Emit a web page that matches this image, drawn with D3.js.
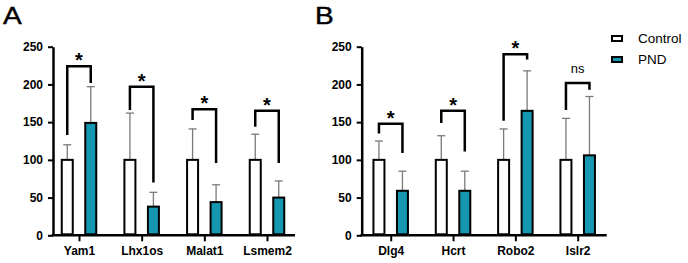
<!DOCTYPE html>
<html>
<head>
<meta charset="utf-8">
<script src="https://cdn.jsdelivr.net/npm/d3@7"></script>
<style>
  body { margin: 0; background: #fff; }
  svg { display: block; font-family: "Liberation Sans", Arial, sans-serif; }
</style>
</head>
<body>
<svg width="688" height="263"></svg>
<script>
// panel A
const genesA = ['Yam1', 'Lhx1os', 'Malat1', 'Lsmem2']
const controlA = [100, 100, 100, 100]
const controlSdA = [20, 62, 41, 34]
const pndA = [149, 38, 44, 50]
const pndSdA = [48, 19, 23, 22]
// bracket: top, left leg end, right leg end
const bracketTopA = [224, 197, 167, 165]
const bracketLeftA = [133, 166, 153, 144]
const bracketRightA = [202, 70, 96, 96]
const signifA = ['*', '*', '*', '*']

// panel B
const genesB = ['Dlg4', 'Hcrt', 'Robo2', 'Islr2']
const controlB = [100, 100, 100, 100]
const controlSdB = [25, 32, 41, 55]
const pndB = [59, 59, 165, 106]
const pndSdB = [26, 26, 53, 78]
const bracketTopB = [148, 165, 240, 202]
const bracketLeftB = [135, 149, 152, 166]
const bracketRightB = [109, 111, 233, 193]
const signifB = ['*', '*', '*', 'ns']

const groups = ['Control', 'PND']
const colors = { Control: '#ffffff', PND: '#1597b1' }
const yTicks = [0, 50, 100, 150, 200, 250]

const svg = d3.select('svg')

const y = d3.scaleLinear().domain([0, 250]).range([235.3, 46.7])
const inner = d3.scaleBand().domain(groups).range([-17.25, 17.25]).paddingInner(0.532)

function drawPanel(cfg) {
    const g = svg.append('g')
    const x = d3.scalePoint().domain(cfg.genes).range(cfg.centers)

    // y axis
    const yAxis = g.append('g')
        .attr('transform', `translate(${cfg.x0},0)`)
        .call(d3.axisLeft(y).tickValues(yTicks).tickSize(5).tickPadding(5).tickSizeOuter(0))
    yAxis.select('.domain').attr('stroke-width', 2.5)
    yAxis.selectAll('.tick line').attr('stroke-width', 2)
    yAxis.selectAll('text').style('font-size', '12px').style('font-weight', 'bold').attr('fill', '#000')

    // x axis
    const xAxis = g.append('g')
        .attr('transform', `translate(0,${y(0)})`)
        .call(d3.axisBottom(x).tickSize(6).tickPadding(5))
    xAxis.select('.domain').remove()
    xAxis.selectAll('.tick line').attr('stroke-width', 2)
    xAxis.selectAll('text').style('font-size', '12px').style('font-weight', 'bold').attr('fill', '#000')
    g.append('line')
        .attr('x1', cfg.x0 - 1.25).attr('x2', cfg.x1)
        .attr('y1', y(0)).attr('y2', y(0))
        .attr('stroke', '#000').attr('stroke-width', 2.5)

    const rows = []
    cfg.genes.forEach((gene, i) => {
        rows.push({ gene, grp: 'Control', v: cfg.control[i], sd: cfg.controlSd[i] })
        rows.push({ gene, grp: 'PND', v: cfg.pnd[i], sd: cfg.pndSd[i] })
    })
    const cx = d => x(d.gene) + inner(d.grp) + inner.bandwidth() / 2

    // error bars (drawn first, bars cover the lower part)
    const eb = g.append('g').selectAll('g').data(rows).join('g')
    eb.append('line')
        .attr('x1', cx).attr('x2', cx)
        .attr('y1', d => y(d.v)).attr('y2', d => y(d.v + d.sd))
        .attr('stroke', '#7a7a7a').attr('stroke-width', 1.3)
    eb.append('line')
        .attr('x1', d => cx(d) - 4).attr('x2', d => cx(d) + 4)
        .attr('y1', d => y(d.v + d.sd)).attr('y2', d => y(d.v + d.sd))
        .attr('stroke', '#7a7a7a').attr('stroke-width', 1.3)

    g.append('g').selectAll('rect').data(rows).join('rect')
        .attr('x', d => x(d.gene) + inner(d.grp))
        .attr('y', d => y(d.v))
        .attr('width', inner.bandwidth())
        .attr('height', d => y(0) - y(d.v) - 1)
        .attr('fill', d => colors[d.grp])
        .attr('stroke', '#000').attr('stroke-width', 2)

    // significance brackets
    cfg.genes.forEach((gene, i) => {
        const xl = x(gene) + inner('Control') + inner.bandwidth() / 2
        const xr = x(gene) + inner('PND') + inner.bandwidth() / 2
        const path = d3.path()
        path.moveTo(xl, y(cfg.bLeft[i]))
        path.lineTo(xl, y(cfg.bTop[i]))
        path.lineTo(xr, y(cfg.bTop[i]))
        path.lineTo(xr, y(cfg.bRight[i]))
        g.append('path')
            .attr('d', path.toString())
            .attr('fill', 'none').attr('stroke', '#000').attr('stroke-width', 2.5)
            .attr('stroke-linejoin', 'miter')
        const lab = cfg.signif[i]
        g.append('text')
            .attr('x', (xl + xr) / 2)
            .attr('y', lab === '*' ? y(cfg.bTop[i]) + 1 : y(cfg.bTop[i]) - 10)
            .attr('text-anchor', 'middle')
            .style('font-size', lab === '*' ? '20px' : '13px')
            .style('font-weight', lab === '*' ? 'bold' : 'normal')
            .text(lab)
    })

    svg.append('text')
        .attr('transform', `translate(${cfg.labelX},24) scale(1.22,1)`)
        .style('font-size', '23px')
        .style('stroke', '#000').style('stroke-width', 0.4)
        .text(cfg.label)
}

drawPanel({
    label: 'A', labelX: 3, x0: 53, x1: 295, centers: [79, 267],
    genes: genesA, control: controlA, controlSd: controlSdA, pnd: pndA, pndSd: pndSdA,
    bTop: bracketTopA, bLeft: bracketLeftA, bRight: bracketRightA, signif: signifA
})
drawPanel({
    label: 'B', labelX: 315, x0: 361.7, x1: 606.7, centers: [390.7, 577.7],
    genes: genesB, control: controlB, controlSd: controlSdB, pnd: pndB, pndSd: pndSdB,
    bTop: bracketTopB, bLeft: bracketLeftB, bRight: bracketRightB, signif: signifB
})

// legend
const legend = svg.append('g').selectAll('g').data(groups).join('g')
    .attr('transform', (d, i) => `translate(612,${36 + i * 21})`)
legend.append('rect')
    .attr('width', 10).attr('height', 5)
    .attr('fill', d => colors[d]).attr('stroke', '#000').attr('stroke-width', 2)
legend.append('text')
    .attr('x', 26).attr('y', 2.5).attr('dy', '0.35em')
    .style('font-size', '13.5px')
    .text(d => d)
</script>
</body>
</html>
